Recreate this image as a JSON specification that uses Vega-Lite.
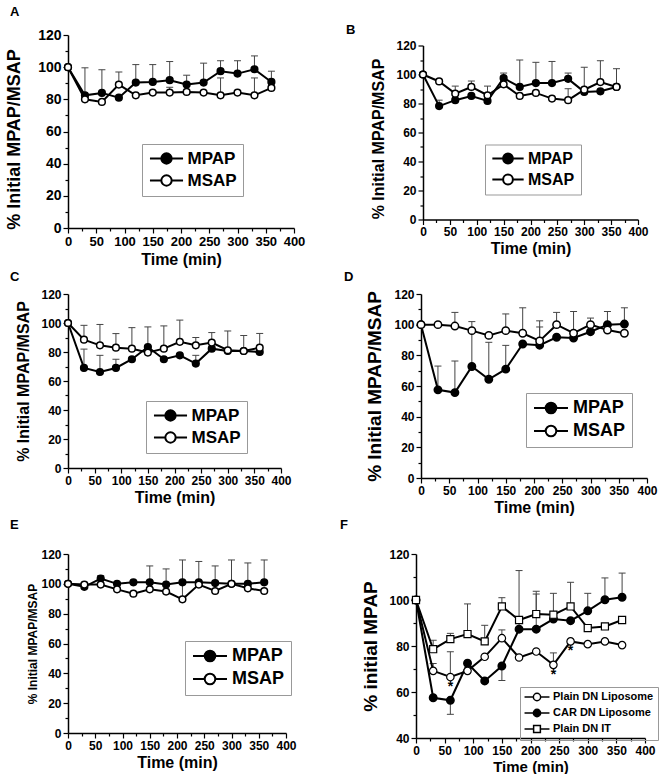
{
"$schema": "https://vega.github.io/schema/vega-lite/v6.json",
"background": "white",
"padding": {"left": 4, "top": 6, "right": 0, "bottom": 0},
"datasets": {
"pts": [
{"p":"A","s":"MPAP","t":0,"v":100},{"p":"A","s":"MPAP","t":30,"v":82.5},{"p":"A","s":"MPAP","t":60,"v":84},{"p":"A","s":"MPAP","t":90,"v":81},{"p":"A","s":"MPAP","t":120,"v":90.4},{"p":"A","s":"MPAP","t":150,"v":90.8},{"p":"A","s":"MPAP","t":180,"v":91.9},{"p":"A","s":"MPAP","t":210,"v":89.2},{"p":"A","s":"MPAP","t":240,"v":90.4},{"p":"A","s":"MPAP","t":270,"v":97.5},{"p":"A","s":"MPAP","t":300,"v":96},{"p":"A","s":"MPAP","t":330,"v":98.7},{"p":"A","s":"MPAP","t":360,"v":90.8},
{"p":"A","s":"MSAP","t":0,"v":100},{"p":"A","s":"MSAP","t":30,"v":80},{"p":"A","s":"MSAP","t":60,"v":78.4},{"p":"A","s":"MSAP","t":90,"v":89.2},{"p":"A","s":"MSAP","t":120,"v":82.5},{"p":"A","s":"MSAP","t":150,"v":84.2},{"p":"A","s":"MSAP","t":180,"v":84.2},{"p":"A","s":"MSAP","t":210,"v":84.6},{"p":"A","s":"MSAP","t":240,"v":84.2},{"p":"A","s":"MSAP","t":270,"v":82.5},{"p":"A","s":"MSAP","t":300,"v":84.2},{"p":"A","s":"MSAP","t":330,"v":82.5},{"p":"A","s":"MSAP","t":360,"v":87.1},
{"p":"B","s":"MPAP","t":0,"v":100},{"p":"B","s":"MPAP","t":30,"v":78.2},{"p":"B","s":"MPAP","t":60,"v":82.3},{"p":"B","s":"MPAP","t":90,"v":85.2},{"p":"B","s":"MPAP","t":120,"v":81.8},{"p":"B","s":"MPAP","t":150,"v":97.5},{"p":"B","s":"MPAP","t":180,"v":91.4},{"p":"B","s":"MPAP","t":210,"v":94.1},{"p":"B","s":"MPAP","t":240,"v":94.1},{"p":"B","s":"MPAP","t":270,"v":97},{"p":"B","s":"MPAP","t":300,"v":88},{"p":"B","s":"MPAP","t":330,"v":88.4},{"p":"B","s":"MPAP","t":360,"v":91.4},
{"p":"B","s":"MSAP","t":0,"v":100},{"p":"B","s":"MSAP","t":30,"v":95.2},{"p":"B","s":"MSAP","t":60,"v":86.8},{"p":"B","s":"MSAP","t":90,"v":91.4},{"p":"B","s":"MSAP","t":120,"v":85.7},{"p":"B","s":"MSAP","t":150,"v":93.2},{"p":"B","s":"MSAP","t":180,"v":85.2},{"p":"B","s":"MSAP","t":210,"v":87.3},{"p":"B","s":"MSAP","t":240,"v":83.4},{"p":"B","s":"MSAP","t":270,"v":82.3},{"p":"B","s":"MSAP","t":300,"v":89.5},{"p":"B","s":"MSAP","t":330,"v":94.8},{"p":"B","s":"MSAP","t":360,"v":91.4},
{"p":"C","s":"MPAP","t":0,"v":100},{"p":"C","s":"MPAP","t":30,"v":69},{"p":"C","s":"MPAP","t":60,"v":66.2},{"p":"C","s":"MPAP","t":90,"v":69},{"p":"C","s":"MPAP","t":120,"v":75},{"p":"C","s":"MPAP","t":150,"v":83.4},{"p":"C","s":"MPAP","t":180,"v":75},{"p":"C","s":"MPAP","t":210,"v":77.7},{"p":"C","s":"MPAP","t":240,"v":72},{"p":"C","s":"MPAP","t":270,"v":82.3},{"p":"C","s":"MPAP","t":300,"v":80.7},{"p":"C","s":"MPAP","t":330,"v":80.7},{"p":"C","s":"MPAP","t":360,"v":80},
{"p":"C","s":"MSAP","t":0,"v":100},{"p":"C","s":"MSAP","t":30,"v":88.5},{"p":"C","s":"MSAP","t":60,"v":84.6},{"p":"C","s":"MSAP","t":90,"v":83},{"p":"C","s":"MSAP","t":120,"v":82.3},{"p":"C","s":"MSAP","t":150,"v":79.6},{"p":"C","s":"MSAP","t":180,"v":82.3},{"p":"C","s":"MSAP","t":210,"v":87},{"p":"C","s":"MSAP","t":240,"v":84.6},{"p":"C","s":"MSAP","t":270,"v":86.5},{"p":"C","s":"MSAP","t":300,"v":81.2},{"p":"C","s":"MSAP","t":330,"v":80.7},{"p":"C","s":"MSAP","t":360,"v":83},
{"p":"D","s":"MPAP","t":0,"v":100},{"p":"D","s":"MPAP","t":30,"v":57.5},{"p":"D","s":"MPAP","t":60,"v":55.7},{"p":"D","s":"MPAP","t":90,"v":72.7},{"p":"D","s":"MPAP","t":120,"v":64.4},{"p":"D","s":"MPAP","t":150,"v":71},{"p":"D","s":"MPAP","t":180,"v":87.4},{"p":"D","s":"MPAP","t":210,"v":86.6},{"p":"D","s":"MPAP","t":240,"v":91.8},{"p":"D","s":"MPAP","t":270,"v":91.3},{"p":"D","s":"MPAP","t":300,"v":95.4},{"p":"D","s":"MPAP","t":330,"v":100},{"p":"D","s":"MPAP","t":360,"v":100.4},
{"p":"D","s":"MSAP","t":0,"v":100},{"p":"D","s":"MSAP","t":30,"v":100},{"p":"D","s":"MSAP","t":60,"v":99.1},{"p":"D","s":"MSAP","t":90,"v":96.1},{"p":"D","s":"MSAP","t":120,"v":93},{"p":"D","s":"MSAP","t":150,"v":96.1},{"p":"D","s":"MSAP","t":180,"v":94.4},{"p":"D","s":"MSAP","t":210,"v":89.4},{"p":"D","s":"MSAP","t":240,"v":100},{"p":"D","s":"MSAP","t":270,"v":94.4},{"p":"D","s":"MSAP","t":300,"v":100},{"p":"D","s":"MSAP","t":330,"v":96.5},{"p":"D","s":"MSAP","t":360,"v":94.4},
{"p":"E","s":"MPAP","t":0,"v":100},{"p":"E","s":"MPAP","t":30,"v":98},{"p":"E","s":"MPAP","t":60,"v":103.5},{"p":"E","s":"MPAP","t":90,"v":100},{"p":"E","s":"MPAP","t":120,"v":101},{"p":"E","s":"MPAP","t":150,"v":101},{"p":"E","s":"MPAP","t":180,"v":99.5},{"p":"E","s":"MPAP","t":210,"v":101},{"p":"E","s":"MPAP","t":240,"v":101},{"p":"E","s":"MPAP","t":270,"v":100.5},{"p":"E","s":"MPAP","t":300,"v":100},{"p":"E","s":"MPAP","t":330,"v":100},{"p":"E","s":"MPAP","t":360,"v":101},
{"p":"E","s":"MSAP","t":0,"v":100},{"p":"E","s":"MSAP","t":30,"v":99.5},{"p":"E","s":"MSAP","t":60,"v":99.5},{"p":"E","s":"MSAP","t":90,"v":96.3},{"p":"E","s":"MSAP","t":120,"v":93.4},{"p":"E","s":"MSAP","t":150,"v":96.3},{"p":"E","s":"MSAP","t":180,"v":94.8},{"p":"E","s":"MSAP","t":210,"v":89.6},{"p":"E","s":"MSAP","t":240,"v":99.5},{"p":"E","s":"MSAP","t":270,"v":95.2},{"p":"E","s":"MSAP","t":300,"v":100},{"p":"E","s":"MSAP","t":330,"v":97},{"p":"E","s":"MSAP","t":360,"v":95.2},
{"p":"F","s":"Plain DN Liposome","t":0,"v":100},{"p":"F","s":"Plain DN Liposome","t":30,"v":69.2},{"p":"F","s":"Plain DN Liposome","t":60,"v":66.5},{"p":"F","s":"Plain DN Liposome","t":90,"v":69.2},{"p":"F","s":"Plain DN Liposome","t":120,"v":75.3},{"p":"F","s":"Plain DN Liposome","t":150,"v":83.4},{"p":"F","s":"Plain DN Liposome","t":180,"v":75},{"p":"F","s":"Plain DN Liposome","t":210,"v":77.6},{"p":"F","s":"Plain DN Liposome","t":240,"v":71.8},{"p":"F","s":"Plain DN Liposome","t":270,"v":82},{"p":"F","s":"Plain DN Liposome","t":300,"v":80.8},{"p":"F","s":"Plain DN Liposome","t":330,"v":82},{"p":"F","s":"Plain DN Liposome","t":360,"v":80.4},
{"p":"F","s":"CAR DN Liposome","t":0,"v":100},{"p":"F","s":"CAR DN Liposome","t":30,"v":57.5},{"p":"F","s":"CAR DN Liposome","t":60,"v":56.4},{"p":"F","s":"CAR DN Liposome","t":90,"v":72.5},{"p":"F","s":"CAR DN Liposome","t":120,"v":64.8},{"p":"F","s":"CAR DN Liposome","t":150,"v":71.3},{"p":"F","s":"CAR DN Liposome","t":180,"v":87.3},{"p":"F","s":"CAR DN Liposome","t":210,"v":87.3},{"p":"F","s":"CAR DN Liposome","t":240,"v":91.7},{"p":"F","s":"CAR DN Liposome","t":270,"v":91},{"p":"F","s":"CAR DN Liposome","t":300,"v":95.3},{"p":"F","s":"CAR DN Liposome","t":330,"v":100.1},{"p":"F","s":"CAR DN Liposome","t":360,"v":101.2},
{"p":"F","s":"Plain DN IT","t":0,"v":100},{"p":"F","s":"Plain DN IT","t":30,"v":78.6},{"p":"F","s":"Plain DN IT","t":60,"v":83},{"p":"F","s":"Plain DN IT","t":90,"v":85.2},{"p":"F","s":"Plain DN IT","t":120,"v":82},{"p":"F","s":"Plain DN IT","t":150,"v":97.2},{"p":"F","s":"Plain DN IT","t":180,"v":91.3},{"p":"F","s":"Plain DN IT","t":210,"v":93.9},{"p":"F","s":"Plain DN IT","t":240,"v":93.6},{"p":"F","s":"Plain DN IT","t":270,"v":97.2},{"p":"F","s":"Plain DN IT","t":300,"v":87.8},{"p":"F","s":"Plain DN IT","t":330,"v":88.5},{"p":"F","s":"Plain DN IT","t":360,"v":91.3}
],
"err": [
{"p":"A","t":30,"v":82.5,"b":99.6},{"p":"A","t":60,"v":84,"b":98.4},{"p":"A","t":90,"v":89.2,"b":97},{"p":"A","t":120,"v":90.4,"b":101.6},{"p":"A","t":150,"v":90.8,"b":101.6},{"p":"A","t":180,"v":91.9,"b":103.5},{"p":"A","t":210,"v":89.2,"b":95},{"p":"A","t":240,"v":90.4,"b":102.5},{"p":"A","t":270,"v":97.5,"b":104},{"p":"A","t":300,"v":96,"b":104},{"p":"A","t":330,"v":98.7,"b":107},{"p":"A","t":360,"v":90.8,"b":97.5},{"p":"A","t":270,"v":82.5,"b":93.3},{"p":"A","t":330,"v":82.5,"b":93.3},{"p":"A","t":180,"v":84.2,"b":87.5},
{"p":"B","t":30,"v":78.2,"b":82.3},{"p":"B","t":60,"v":86.8,"b":92},{"p":"B","t":90,"v":91.4,"b":95.5},{"p":"B","t":120,"v":85.7,"b":92},{"p":"B","t":150,"v":97.5,"b":101},{"p":"B","t":180,"v":91.4,"b":110},{"p":"B","t":210,"v":94.1,"b":108.4},{"p":"B","t":240,"v":94.1,"b":109},{"p":"B","t":270,"v":97,"b":101},{"p":"B","t":270,"v":82.3,"b":90.2},{"p":"B","t":300,"v":89.5,"b":105},{"p":"B","t":330,"v":94.8,"b":109.5},{"p":"B","t":360,"v":91.4,"b":104},
{"p":"C","t":30,"v":88.5,"b":98.4},{"p":"C","t":30,"v":69,"b":82},{"p":"C","t":60,"v":84.6,"b":99},{"p":"C","t":60,"v":66.2,"b":77.7},{"p":"C","t":90,"v":83,"b":92.7},{"p":"C","t":90,"v":69,"b":75},{"p":"C","t":120,"v":82.3,"b":96.8},{"p":"C","t":150,"v":83.4,"b":97.3},{"p":"C","t":180,"v":82.3,"b":98},{"p":"C","t":210,"v":87,"b":102},{"p":"C","t":240,"v":84.6,"b":90},{"p":"C","t":240,"v":72,"b":77.7},{"p":"C","t":270,"v":86.5,"b":93.4},{"p":"C","t":300,"v":81.2,"b":94.5},{"p":"C","t":330,"v":80.7,"b":91.4},{"p":"C","t":360,"v":83,"b":92.8},
{"p":"D","t":30,"v":57.5,"b":73},{"p":"D","t":60,"v":55.7,"b":76.3},{"p":"D","t":60,"v":99.1,"b":108},{"p":"D","t":90,"v":72.7,"b":102},{"p":"D","t":120,"v":64.4,"b":88.5},{"p":"D","t":150,"v":71,"b":86.5},{"p":"D","t":150,"v":96.1,"b":107},{"p":"D","t":180,"v":94.4,"b":111},{"p":"D","t":210,"v":86.6,"b":102.5},{"p":"D","t":210,"v":89.4,"b":98.5},{"p":"D","t":240,"v":100,"b":108},{"p":"D","t":270,"v":94.4,"b":108.6},{"p":"D","t":300,"v":100,"b":104.3},{"p":"D","t":330,"v":100,"b":108.6},{"p":"D","t":360,"v":100.4,"b":111},
{"p":"E","t":30,"v":98,"b":101},{"p":"E","t":60,"v":103.5,"b":105.5},{"p":"E","t":150,"v":101,"b":112},{"p":"E","t":180,"v":99.5,"b":110},{"p":"E","t":210,"v":101,"b":116},{"p":"E","t":210,"v":89.6,"b":100},{"p":"E","t":240,"v":101,"b":115},{"p":"E","t":270,"v":100.5,"b":112},{"p":"E","t":300,"v":100,"b":116},{"p":"E","t":330,"v":100,"b":114},{"p":"E","t":360,"v":101,"b":116},
{"p":"F","t":30,"v":78.6,"b":82.5},{"p":"F","t":30,"v":69.2,"b":72.4},{"p":"F","t":60,"v":83,"b":85.5},{"p":"F","t":60,"v":66.5,"b":77.5},{"p":"F","t":60,"v":56.4,"b":50.3},{"p":"F","t":90,"v":85.2,"b":98.3},{"p":"F","t":120,"v":82,"b":89},{"p":"F","t":150,"v":97.2,"b":101},{"p":"F","t":150,"v":83.4,"b":87},{"p":"F","t":150,"v":71.3,"b":65},{"p":"F","t":180,"v":87.3,"b":112.8},{"p":"F","t":210,"v":93.9,"b":103.8},{"p":"F","t":210,"v":87.3,"b":102.6},{"p":"F","t":240,"v":93.6,"b":102.9},{"p":"F","t":240,"v":71.8,"b":77},{"p":"F","t":270,"v":97.2,"b":107.7},{"p":"F","t":300,"v":95.3,"b":102.9},{"p":"F","t":330,"v":100.1,"b":109.6},{"p":"F","t":360,"v":101.2,"b":111.7}
],
"mk": [{"p":"F","t":60,"v":63.5},{"p":"F","t":240,"v":68.5},{"p":"F","t":270,"v":79}]
},
"spacing": 4,
"resolve": {"scale": {"fill": "independent", "shape": "independent"}, "legend": {"fill": "independent", "shape": "independent"}},
"vconcat": [
{"hconcat": [
{"width": 226, "height": 193,
 "title": {"text": "A", "dx": -58, "offset": 9},
 "encoding": {
  "x": {"field": "t", "type": "quantitative", "scale": {"domain": [0, 400], "nice": false}, "axis": {"title": "Time (min)", "values": [0,25,50,75,100,125,150,175,200,225,250,275,300,325,350,375,400], "labelExpr": "datum.value % 50 === 0 ? datum.label : ''", "tickSize": {"condition": {"test": "datum.value % 50 === 0", "value": 5}, "value": 3}, "labelFontSize": 13, "titleFontSize": 16, "titlePadding": 3}},
  "y": {"field": "v", "type": "quantitative", "title": "% Initial MPAP/MSAP", "scale": {"domain": [0, 120], "nice": false}, "axis": {"values": [0,10,20,30,40,50,60,70,80,90,100,110,120], "labelExpr": "datum.value % 20 === 0 ? datum.label : ''", "tickSize": {"condition": {"test": "datum.value % 20 === 0", "value": 5}, "value": 3}, "labelFontSize": 14, "titleFontSize": 18, "titleX": -54, "titleY": 104, "titleBaseline": "middle"}}
 },
 "layer": [
  {"data": {"name": "err"}, "transform": [{"filter": "datum.p === 'A'"}], "mark": {"type": "rule", "color": "#444", "strokeWidth": 1}, "encoding": {"y2": {"field": "b"}}},
  {"data": {"name": "err"}, "transform": [{"filter": "datum.p === 'A'"}], "mark": {"type": "tick", "orient": "horizontal", "color": "#444", "size": 7, "thickness": 1, "opacity": 1}, "encoding": {"y": {"field": "b", "type": "quantitative", "title": "% Initial MPAP/MSAP", "scale": {"domain": [0, 120], "nice": false}}}},
  {"data": {"name": "pts"}, "transform": [{"filter": "datum.p === 'A'"}], "mark": {"type": "line", "color": "black", "strokeWidth": 2}, "encoding": {"detail": {"field": "s"}}},
  {"data": {"name": "pts"}, "transform": [{"filter": "datum.p === 'A' && datum.s === 'MPAP'"}], "mark": {"type": "point", "shape": "circle", "filled": true, "fill": "black", "stroke": "black", "strokeWidth": 1.5, "size": 45, "opacity": 1}},
  {"data": {"name": "pts"}, "transform": [{"filter": "datum.p === 'A' && datum.s === 'MSAP'"}], "mark": {"type": "point", "shape": "circle", "filled": true, "fill": "white", "stroke": "black", "strokeWidth": 1.5, "size": 45, "opacity": 1}},
  {"data": {"name": "pts"}, "transform": [{"filter": "false"}], "mark": {"type": "point", "filled": true, "stroke": "black", "strokeWidth": 2, "opacity": 1},
   "encoding": {
    "fill": {"field": "s", "type": "nominal", "scale": {"domain": ["MPAP", "MSAP"], "range": ["black", "white"]}, "legend": {"title": null, "orient": "none", "legendX": 74, "legendY": 109, "labelFontSize": 17, "labelFontWeight": "bold", "labelColor": "black", "symbolSize": 190, "symbolStrokeColor": "black", "symbolStrokeWidth": 2, "symbolOpacity": 1, "symbolOffset": 10, "labelOffset": 12.5, "strokeColor": "#999", "padding": 6, "rowPadding": 3, "encode": {"symbols": {"update": {"stroke": {"value": "black"}, "strokeWidth": {"value": 2}}}}}},
    "shape": {"field": "s", "type": "nominal", "scale": {"domain": ["MPAP", "MSAP"], "range": ["M-2.4,0H-0.75M0.75,0H2.4M0.75,0A0.75,0.75,0,1,1,-0.75,0A0.75,0.75,0,1,1,0.75,0Z", "M-2.4,0H-0.75M0.75,0H2.4M0.75,0A0.75,0.75,0,1,1,-0.75,0A0.75,0.75,0,1,1,0.75,0Z"]}, "legend": {"title": null, "orient": "none", "legendX": 74, "legendY": 109, "labelFontSize": 17, "labelFontWeight": "bold", "labelColor": "black", "symbolSize": 190, "symbolStrokeColor": "black", "symbolStrokeWidth": 2, "symbolOpacity": 1, "symbolOffset": 10, "labelOffset": 12.5, "strokeColor": "#999", "padding": 6, "rowPadding": 3, "encode": {"symbols": {"update": {"stroke": {"value": "black"}, "strokeWidth": {"value": 2}}}}}}
   }}
 ]
},
{"width": 215, "height": 174,
 "title": {"text": "B", "dx": -77, "offset": 3},
 "encoding": {
  "x": {"field": "t", "type": "quantitative", "scale": {"domain": [0, 400], "nice": false}, "axis": {"title": "Time (min)", "values": [0,25,50,75,100,125,150,175,200,225,250,275,300,325,350,375,400], "labelExpr": "datum.value % 50 === 0 ? datum.label : ''", "tickSize": {"condition": {"test": "datum.value % 50 === 0", "value": 5}, "value": 3}, "labelFontSize": 12, "titleFontSize": 16, "titlePadding": 3}},
  "y": {"field": "v", "type": "quantitative", "title": "% Initial MPAP/MSAP", "scale": {"domain": [0, 120], "nice": false}, "axis": {"values": [0,10,20,30,40,50,60,70,80,90,100,110,120], "labelExpr": "datum.value % 20 === 0 ? datum.label : ''", "tickSize": {"condition": {"test": "datum.value % 20 === 0", "value": 5}, "value": 3}, "labelFontSize": 12, "titleFontSize": 16, "titleX": -45, "titleY": 93, "titleBaseline": "middle"}}
 },
 "layer": [
  {"data": {"name": "err"}, "transform": [{"filter": "datum.p === 'B'"}], "mark": {"type": "rule", "color": "#444", "strokeWidth": 1}, "encoding": {"y2": {"field": "b"}}},
  {"data": {"name": "err"}, "transform": [{"filter": "datum.p === 'B'"}], "mark": {"type": "tick", "orient": "horizontal", "color": "#444", "size": 7, "thickness": 1, "opacity": 1}, "encoding": {"y": {"field": "b", "type": "quantitative", "title": "% Initial MPAP/MSAP", "scale": {"domain": [0, 120], "nice": false}}}},
  {"data": {"name": "pts"}, "transform": [{"filter": "datum.p === 'B'"}], "mark": {"type": "line", "color": "black", "strokeWidth": 2}, "encoding": {"detail": {"field": "s"}}},
  {"data": {"name": "pts"}, "transform": [{"filter": "datum.p === 'B' && datum.s === 'MPAP'"}], "mark": {"type": "point", "shape": "circle", "filled": true, "fill": "black", "stroke": "black", "strokeWidth": 1.5, "size": 45, "opacity": 1}},
  {"data": {"name": "pts"}, "transform": [{"filter": "datum.p === 'B' && datum.s === 'MSAP'"}], "mark": {"type": "point", "shape": "circle", "filled": true, "fill": "white", "stroke": "black", "strokeWidth": 1.5, "size": 45, "opacity": 1}},
  {"data": {"name": "pts"}, "transform": [{"filter": "false"}], "mark": {"type": "point", "filled": true, "stroke": "black", "strokeWidth": 2, "opacity": 1},
   "encoding": {
    "fill": {"field": "s", "type": "nominal", "scale": {"domain": ["MPAP", "MSAP"], "range": ["black", "white"]}, "legend": {"title": null, "orient": "none", "legendX": 62, "legendY": 99, "labelFontSize": 16, "labelFontWeight": "bold", "labelColor": "black", "symbolSize": 170, "symbolStrokeColor": "black", "symbolStrokeWidth": 2, "symbolOpacity": 1, "symbolOffset": 9, "labelOffset": 12, "strokeColor": "#999", "padding": 6, "rowPadding": 3, "encode": {"symbols": {"update": {"stroke": {"value": "black"}, "strokeWidth": {"value": 2}}}}}},
    "shape": {"field": "s", "type": "nominal", "scale": {"domain": ["MPAP", "MSAP"], "range": ["M-2.4,0H-0.75M0.75,0H2.4M0.75,0A0.75,0.75,0,1,1,-0.75,0A0.75,0.75,0,1,1,0.75,0Z", "M-2.4,0H-0.75M0.75,0H2.4M0.75,0A0.75,0.75,0,1,1,-0.75,0A0.75,0.75,0,1,1,0.75,0Z"]}, "legend": {"title": null, "orient": "none", "legendX": 62, "legendY": 99, "labelFontSize": 16, "labelFontWeight": "bold", "labelColor": "black", "symbolSize": 170, "symbolStrokeColor": "black", "symbolStrokeWidth": 2, "symbolOpacity": 1, "symbolOffset": 9, "labelOffset": 12, "strokeColor": "#999", "padding": 6, "rowPadding": 3, "encode": {"symbols": {"update": {"stroke": {"value": "black"}, "strokeWidth": {"value": 2}}}}}}
   }}
 ]
}
], "spacing": 41, "center": true, "resolve": {"scale": {"fill": "independent", "shape": "independent"}, "legend": {"fill": "independent", "shape": "independent"}}},
{"hconcat": [
{"width": 213, "height": 174,
 "title": {"text": "C", "dx": -58, "offset": 4},
 "encoding": {
  "x": {"field": "t", "type": "quantitative", "scale": {"domain": [0, 400], "nice": false}, "axis": {"title": "Time (min)", "values": [0,25,50,75,100,125,150,175,200,225,250,275,300,325,350,375,400], "labelExpr": "datum.value % 50 === 0 ? datum.label : ''", "tickSize": {"condition": {"test": "datum.value % 50 === 0", "value": 5}, "value": 3}, "labelFontSize": 12, "titleFontSize": 16, "titlePadding": 3}},
  "y": {"field": "v", "type": "quantitative", "title": "% Initial MPAP/MSAP", "scale": {"domain": [0, 120], "nice": false}, "axis": {"values": [0,10,20,30,40,50,60,70,80,90,100,110,120], "labelExpr": "datum.value % 20 === 0 ? datum.label : ''", "tickSize": {"condition": {"test": "datum.value % 20 === 0", "value": 5}, "value": 3}, "labelFontSize": 12, "titleFontSize": 16, "titleX": -45, "titleBaseline": "middle"}}
 },
 "layer": [
  {"data": {"name": "err"}, "transform": [{"filter": "datum.p === 'C'"}], "mark": {"type": "rule", "color": "#444", "strokeWidth": 1}, "encoding": {"y2": {"field": "b"}}},
  {"data": {"name": "err"}, "transform": [{"filter": "datum.p === 'C'"}], "mark": {"type": "tick", "orient": "horizontal", "color": "#444", "size": 7, "thickness": 1, "opacity": 1}, "encoding": {"y": {"field": "b", "type": "quantitative", "title": "% Initial MPAP/MSAP", "scale": {"domain": [0, 120], "nice": false}}}},
  {"data": {"name": "pts"}, "transform": [{"filter": "datum.p === 'C'"}], "mark": {"type": "line", "color": "black", "strokeWidth": 2}, "encoding": {"detail": {"field": "s"}}},
  {"data": {"name": "pts"}, "transform": [{"filter": "datum.p === 'C' && datum.s === 'MPAP'"}], "mark": {"type": "point", "shape": "circle", "filled": true, "fill": "black", "stroke": "black", "strokeWidth": 1.5, "size": 45, "opacity": 1}},
  {"data": {"name": "pts"}, "transform": [{"filter": "datum.p === 'C' && datum.s === 'MSAP'"}], "mark": {"type": "point", "shape": "circle", "filled": true, "fill": "white", "stroke": "black", "strokeWidth": 1.5, "size": 45, "opacity": 1}},
  {"data": {"name": "pts"}, "transform": [{"filter": "false"}], "mark": {"type": "point", "filled": true, "stroke": "black", "strokeWidth": 2, "opacity": 1},
   "encoding": {
    "fill": {"field": "s", "type": "nominal", "scale": {"domain": ["MPAP", "MSAP"], "range": ["black", "white"]}, "legend": {"title": null, "orient": "none", "legendX": 78, "legendY": 107, "labelFontSize": 17, "labelFontWeight": "bold", "labelColor": "black", "symbolSize": 190, "symbolStrokeColor": "black", "symbolStrokeWidth": 2, "symbolOpacity": 1, "symbolOffset": 10, "labelOffset": 12.5, "strokeColor": "#999", "padding": 6, "rowPadding": 3, "encode": {"symbols": {"update": {"stroke": {"value": "black"}, "strokeWidth": {"value": 2}}}}}},
    "shape": {"field": "s", "type": "nominal", "scale": {"domain": ["MPAP", "MSAP"], "range": ["M-2.4,0H-0.75M0.75,0H2.4M0.75,0A0.75,0.75,0,1,1,-0.75,0A0.75,0.75,0,1,1,0.75,0Z", "M-2.4,0H-0.75M0.75,0H2.4M0.75,0A0.75,0.75,0,1,1,-0.75,0A0.75,0.75,0,1,1,0.75,0Z"]}, "legend": {"title": null, "orient": "none", "legendX": 78, "legendY": 107, "labelFontSize": 17, "labelFontWeight": "bold", "labelColor": "black", "symbolSize": 190, "symbolStrokeColor": "black", "symbolStrokeWidth": 2, "symbolOpacity": 1, "symbolOffset": 10, "labelOffset": 12.5, "strokeColor": "#999", "padding": 6, "rowPadding": 3, "encode": {"symbols": {"update": {"stroke": {"value": "black"}, "strokeWidth": {"value": 2}}}}}}
   }}
 ]
},
{"width": 226, "height": 184,
 "title": {"text": "D", "dx": -77, "offset": 4},
 "encoding": {
  "x": {"field": "t", "type": "quantitative", "scale": {"domain": [0, 400], "nice": false}, "axis": {"title": "Time (min)", "values": [0,25,50,75,100,125,150,175,200,225,250,275,300,325,350,375,400], "labelExpr": "datum.value % 50 === 0 ? datum.label : ''", "tickSize": {"condition": {"test": "datum.value % 50 === 0", "value": 5}, "value": 3}, "labelFontSize": 12, "titleFontSize": 16, "titlePadding": 3}},
  "y": {"field": "v", "type": "quantitative", "title": "% Initial MPAP/MSAP", "scale": {"domain": [0, 120], "nice": false}, "axis": {"values": [0,10,20,30,40,50,60,70,80,90,100,110,120], "labelExpr": "datum.value % 20 === 0 ? datum.label : ''", "tickSize": {"condition": {"test": "datum.value % 20 === 0", "value": 5}, "value": 3}, "labelFontSize": 12, "titleFontSize": 19, "titleX": -47, "titleBaseline": "middle"}}
 },
 "layer": [
  {"data": {"name": "err"}, "transform": [{"filter": "datum.p === 'D'"}], "mark": {"type": "rule", "color": "#444", "strokeWidth": 1}, "encoding": {"y2": {"field": "b"}}},
  {"data": {"name": "err"}, "transform": [{"filter": "datum.p === 'D'"}], "mark": {"type": "tick", "orient": "horizontal", "color": "#444", "size": 7, "thickness": 1, "opacity": 1}, "encoding": {"y": {"field": "b", "type": "quantitative", "title": "% Initial MPAP/MSAP", "scale": {"domain": [0, 120], "nice": false}}}},
  {"data": {"name": "pts"}, "transform": [{"filter": "datum.p === 'D'"}], "mark": {"type": "line", "color": "black", "strokeWidth": 2}, "encoding": {"detail": {"field": "s"}}},
  {"data": {"name": "pts"}, "transform": [{"filter": "datum.p === 'D' && datum.s === 'MPAP'"}], "mark": {"type": "point", "shape": "circle", "filled": true, "fill": "black", "stroke": "black", "strokeWidth": 1.5, "size": 55, "opacity": 1}},
  {"data": {"name": "pts"}, "transform": [{"filter": "datum.p === 'D' && datum.s === 'MSAP'"}], "mark": {"type": "point", "shape": "circle", "filled": true, "fill": "white", "stroke": "black", "strokeWidth": 1.5, "size": 55, "opacity": 1}},
  {"data": {"name": "pts"}, "transform": [{"filter": "false"}], "mark": {"type": "point", "filled": true, "stroke": "black", "strokeWidth": 2, "opacity": 1},
   "encoding": {
    "fill": {"field": "s", "type": "nominal", "scale": {"domain": ["MPAP", "MSAP"], "range": ["black", "white"]}, "legend": {"title": null, "orient": "none", "legendX": 105, "legendY": 99, "labelFontSize": 18, "labelFontWeight": "bold", "labelColor": "black", "symbolSize": 200, "symbolStrokeColor": "black", "symbolStrokeWidth": 2, "symbolOpacity": 1, "symbolOffset": 10, "labelOffset": 13, "strokeColor": "#999", "padding": 6, "rowPadding": 3, "encode": {"symbols": {"update": {"stroke": {"value": "black"}, "strokeWidth": {"value": 2}}}}}},
    "shape": {"field": "s", "type": "nominal", "scale": {"domain": ["MPAP", "MSAP"], "range": ["M-2.4,0H-0.75M0.75,0H2.4M0.75,0A0.75,0.75,0,1,1,-0.75,0A0.75,0.75,0,1,1,0.75,0Z", "M-2.4,0H-0.75M0.75,0H2.4M0.75,0A0.75,0.75,0,1,1,-0.75,0A0.75,0.75,0,1,1,0.75,0Z"]}, "legend": {"title": null, "orient": "none", "legendX": 105, "legendY": 99, "labelFontSize": 18, "labelFontWeight": "bold", "labelColor": "black", "symbolSize": 200, "symbolStrokeColor": "black", "symbolStrokeWidth": 2, "symbolOpacity": 1, "symbolOffset": 10, "labelOffset": 13, "strokeColor": "#999", "padding": 6, "rowPadding": 3, "encode": {"symbols": {"update": {"stroke": {"value": "black"}, "strokeWidth": {"value": 2}}}}}}
   }}
 ]
}
], "spacing": 52, "resolve": {"scale": {"fill": "independent", "shape": "independent"}, "legend": {"fill": "independent", "shape": "independent"}}},
{"hconcat": [
{"width": 218, "height": 179,
 "title": {"text": "E", "dx": -58, "offset": 16},
 "encoding": {
  "x": {"field": "t", "type": "quantitative", "scale": {"domain": [0, 400], "nice": false}, "axis": {"title": "Time (min)", "values": [0,25,50,75,100,125,150,175,200,225,250,275,300,325,350,375,400], "labelExpr": "datum.value % 50 === 0 ? datum.label : ''", "tickSize": {"condition": {"test": "datum.value % 50 === 0", "value": 5}, "value": 3}, "labelFontSize": 12, "titleFontSize": 16, "titlePadding": 3}},
  "y": {"field": "v", "type": "quantitative", "title": "% Initial MPAP/MSAP", "scale": {"domain": [0, 120], "nice": false}, "axis": {"values": [0,10,20,30,40,50,60,70,80,90,100,110,120], "labelExpr": "datum.value % 20 === 0 ? datum.label : ''", "tickSize": {"condition": {"test": "datum.value % 20 === 0", "value": 5}, "value": 3}, "labelFontSize": 12, "titleFontSize": 12, "titleX": -36, "titleBaseline": "middle"}}
 },
 "layer": [
  {"data": {"name": "err"}, "transform": [{"filter": "datum.p === 'E'"}], "mark": {"type": "rule", "color": "#444", "strokeWidth": 1}, "encoding": {"y2": {"field": "b"}}},
  {"data": {"name": "err"}, "transform": [{"filter": "datum.p === 'E'"}], "mark": {"type": "tick", "orient": "horizontal", "color": "#444", "size": 7, "thickness": 1, "opacity": 1}, "encoding": {"y": {"field": "b", "type": "quantitative", "title": "% Initial MPAP/MSAP", "scale": {"domain": [0, 120], "nice": false}}}},
  {"data": {"name": "pts"}, "transform": [{"filter": "datum.p === 'E'"}], "mark": {"type": "line", "color": "black", "strokeWidth": 2}, "encoding": {"detail": {"field": "s"}}},
  {"data": {"name": "pts"}, "transform": [{"filter": "datum.p === 'E' && datum.s === 'MPAP'"}], "mark": {"type": "point", "shape": "circle", "filled": true, "fill": "black", "stroke": "black", "strokeWidth": 1.5, "size": 45, "opacity": 1}},
  {"data": {"name": "pts"}, "transform": [{"filter": "datum.p === 'E' && datum.s === 'MSAP'"}], "mark": {"type": "point", "shape": "circle", "filled": true, "fill": "white", "stroke": "black", "strokeWidth": 1.5, "size": 45, "opacity": 1}},
  {"data": {"name": "pts"}, "transform": [{"filter": "false"}], "mark": {"type": "point", "filled": true, "stroke": "black", "strokeWidth": 2, "opacity": 1},
   "encoding": {
    "fill": {"field": "s", "type": "nominal", "scale": {"domain": ["MPAP", "MSAP"], "range": ["black", "white"]}, "legend": {"title": null, "orient": "none", "legendX": 117, "legendY": 87, "labelFontSize": 18, "labelFontWeight": "bold", "labelColor": "black", "symbolSize": 200, "symbolStrokeColor": "black", "symbolStrokeWidth": 2, "symbolOpacity": 1, "symbolOffset": 10, "labelOffset": 13, "strokeColor": "#999", "padding": 6, "rowPadding": 3, "encode": {"symbols": {"update": {"stroke": {"value": "black"}, "strokeWidth": {"value": 2}}}}}},
    "shape": {"field": "s", "type": "nominal", "scale": {"domain": ["MPAP", "MSAP"], "range": ["M-2.4,0H-0.75M0.75,0H2.4M0.75,0A0.75,0.75,0,1,1,-0.75,0A0.75,0.75,0,1,1,0.75,0Z", "M-2.4,0H-0.75M0.75,0H2.4M0.75,0A0.75,0.75,0,1,1,-0.75,0A0.75,0.75,0,1,1,0.75,0Z"]}, "legend": {"title": null, "orient": "none", "legendX": 117, "legendY": 87, "labelFontSize": 18, "labelFontWeight": "bold", "labelColor": "black", "symbolSize": 200, "symbolStrokeColor": "black", "symbolStrokeWidth": 2, "symbolOpacity": 1, "symbolOffset": 10, "labelOffset": 13, "strokeColor": "#999", "padding": 6, "rowPadding": 3, "encode": {"symbols": {"update": {"stroke": {"value": "black"}, "strokeWidth": {"value": 2}}}}}}
   }}
 ]
},
{"width": 229, "height": 184,
 "title": {"text": "F", "dx": -76, "offset": 16},
 "encoding": {
  "x": {"field": "t", "type": "quantitative", "scale": {"domain": [0, 400], "nice": false}, "axis": {"title": "Time (min)", "values": [0,25,50,75,100,125,150,175,200,225,250,275,300,325,350,375,400], "labelExpr": "datum.value % 50 === 0 ? datum.label : ''", "tickSize": {"condition": {"test": "datum.value % 50 === 0", "value": 5}, "value": 3}, "labelFontSize": 12, "titleFontSize": 15, "titlePadding": 3}},
  "y": {"field": "v", "type": "quantitative", "title": "% initial MPAP", "scale": {"domain": [40, 120], "nice": false, "zero": false}, "axis": {"values": [40,50,60,70,80,90,100,110,120], "labelExpr": "datum.value % 20 === 0 ? datum.label : ''", "tickSize": {"condition": {"test": "datum.value % 20 === 0", "value": 5}, "value": 3}, "labelFontSize": 12, "titleFontSize": 19, "titleX": -46, "titleBaseline": "middle"}}
 },
 "layer": [
  {"data": {"name": "err"}, "transform": [{"filter": "datum.p === 'F'"}], "mark": {"type": "rule", "color": "#444", "strokeWidth": 1}, "encoding": {"y2": {"field": "b"}}},
  {"data": {"name": "err"}, "transform": [{"filter": "datum.p === 'F'"}], "mark": {"type": "tick", "orient": "horizontal", "color": "#444", "size": 7, "thickness": 1, "opacity": 1}, "encoding": {"y": {"field": "b", "type": "quantitative", "title": "% initial MPAP", "scale": {"domain": [40, 120], "nice": false, "zero": false}}}},
  {"data": {"name": "mk"}, "transform": [{"filter": "datum.p === 'F'"}], "mark": {"type": "text", "text": "*", "fontSize": 14, "fontWeight": "bold", "color": "black", "baseline": "middle", "dy": 3}},
  {"data": {"name": "pts"}, "transform": [{"filter": "datum.p === 'F'"}], "mark": {"type": "line", "color": "black", "strokeWidth": 2}, "encoding": {"detail": {"field": "s"}}},
  {"data": {"name": "pts"}, "transform": [{"filter": "datum.p === 'F' && datum.s === 'CAR DN Liposome'"}], "mark": {"type": "point", "shape": "circle", "filled": true, "fill": "black", "stroke": "black", "strokeWidth": 1.5, "size": 55, "opacity": 1}},
  {"data": {"name": "pts"}, "transform": [{"filter": "datum.p === 'F' && datum.s === 'Plain DN Liposome'"}], "mark": {"type": "point", "shape": "circle", "filled": true, "fill": "white", "stroke": "black", "strokeWidth": 1.2, "size": 55, "opacity": 1}},
  {"data": {"name": "pts"}, "transform": [{"filter": "datum.p === 'F' && datum.s === 'Plain DN IT'"}], "mark": {"type": "point", "shape": "square", "filled": true, "fill": "white", "stroke": "black", "strokeWidth": 1.2, "size": 50, "opacity": 1}},
  {"data": {"name": "pts"}, "transform": [{"filter": "false"}], "mark": {"type": "point", "filled": true, "stroke": "black", "strokeWidth": 1.5, "opacity": 1},
   "encoding": {
    "fill": {"field": "s", "type": "nominal", "scale": {"domain": ["Plain DN Liposome", "CAR DN Liposome", "Plain DN IT"], "range": ["white", "black", "white"]}, "legend": {"title": null, "orient": "none", "legendX": 104, "legendY": 133, "labelFontSize": 11, "labelFontWeight": "bold", "labelColor": "black", "symbolSize": 108, "symbolStrokeColor": "black", "symbolStrokeWidth": 1.5, "symbolOpacity": 1, "symbolOffset": 7, "labelOffset": 10, "strokeColor": "#999", "padding": 4, "rowPadding": 2, "encode": {"symbols": {"update": {"stroke": {"value": "black"}, "strokeWidth": {"value": 1.5}}}}}},
    "shape": {"field": "s", "type": "nominal", "scale": {"domain": ["Plain DN Liposome", "CAR DN Liposome", "Plain DN IT"], "range": ["M-2.4,0H-0.7M0.7,0H2.4M0.7,0A0.7,0.7,0,1,1,-0.7,0A0.7,0.7,0,1,1,0.7,0Z", "M-2.4,0H-0.7M0.7,0H2.4M0.7,0A0.7,0.7,0,1,1,-0.7,0A0.7,0.7,0,1,1,0.7,0Z", "M-2.4,0H-0.65M0.65,0H2.4M-0.65,-0.65H0.65V0.65H-0.65Z"]}, "legend": {"title": null, "orient": "none", "legendX": 104, "legendY": 133, "labelFontSize": 11, "labelFontWeight": "bold", "labelColor": "black", "symbolSize": 108, "symbolStrokeColor": "black", "symbolStrokeWidth": 1.5, "symbolOpacity": 1, "symbolOffset": 7, "labelOffset": 10, "strokeColor": "#999", "padding": 4, "rowPadding": 2, "encode": {"symbols": {"update": {"stroke": {"value": "black"}, "strokeWidth": {"value": 1.5}}}}}}
   }}
 ]
}
], "spacing": 43, "resolve": {"scale": {"fill": "independent", "shape": "independent"}, "legend": {"fill": "independent", "shape": "independent"}}}
],
"config": {
 "view": {"stroke": null},
 "font": "Liberation Sans",
 "axis": {"grid": false, "domainColor": "black", "domainWidth": 1.5, "tickColor": "black", "tickWidth": 1.2, "labelColor": "black", "labelFontWeight": "bold", "titleColor": "black", "titleFontWeight": "bold", "labelFlush": false, "labelOverlap": false, "labelPadding": 2, "labelBound": false},
 "title": {"anchor": "start", "frame": "group", "fontSize": 13, "fontWeight": "bold", "color": "black"},
 "legend": {"labelFont": "Liberation Sans"}
}
}
